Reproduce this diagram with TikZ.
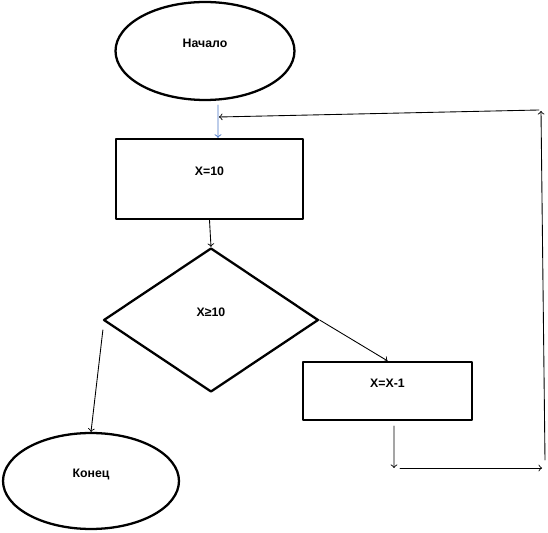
\documentclass[tikz,border=0pt]{standalone}
\usepackage{fontspec}
\setmainfont{Liberation Sans}
\usetikzlibrary{shapes.geometric}
\begin{document}
\begin{tikzpicture}[x=0.02cm, y=-0.02cm, line cap=round, line join=round,
  figura/.style={draw, line width=1.3pt, fill=white, inner sep=0pt, text depth=0.3cm,
    font=\fontsize{7}{8}\selectfont\bfseries},
  flecha/.style={->, line width=0.5pt}]
  \useasboundingbox (0,0) rectangle (548,533);
  % los bloques del esquema
  \node[figura, ellipse, minimum width=3.58cm, minimum height=1.96cm] (inicio) at (205,51) {Начало};
  \node[figura, rectangle, minimum width=3.74cm, minimum height=1.6cm] (asigna) at (209.5,179) {X=10};
  \node[figura, diamond, minimum width=4.3cm, minimum height=2.88cm] (cond) at (211,320) {X≥10};
  \node[figura, rectangle, minimum width=3.38cm, minimum height=1.16cm] (resta) at (387.5,391) {X=X-1};
  \node[figura, ellipse, minimum width=3.52cm, minimum height=1.92cm] (fin) at (91,481) {Конец};
  % los puntos sueltos del bucle de vuelta
  \coordinate (bajo) at (394,468);
  \coordinate (b1) at (400,468);
  \coordinate (b2) at (542,468);
  \coordinate (d1) at (545,460);
  \coordinate (d2) at (541,111);
  \coordinate (a1) at (539,110);
  \coordinate (a2) at (219,117);
  % las flechas entre bloques
  \draw[flecha, color={rgb,255:red,68;green,114;blue,196}]
    ([xshift=0.26cm, yshift=-0.08cm]inicio.south) -- ([xshift=0.17cm]asigna.north);
  \draw[flecha] (asigna.south) -- (cond.north);
  \draw[flecha] (cond.east) -- (resta.north);
  \draw[flecha] ([xshift=0.01cm, yshift=-0.2cm]cond.west) -- (fin.north);
  % la vuelta al principio
  \draw[flecha] ([xshift=0.13cm, yshift=-0.1cm]resta.south) -- (bajo);
  \draw[flecha] (b1) -- (b2);
  \draw[flecha] (d1) -- (d2);
  \draw[flecha] (a1) -- (a2);
\end{tikzpicture}
\end{document}
